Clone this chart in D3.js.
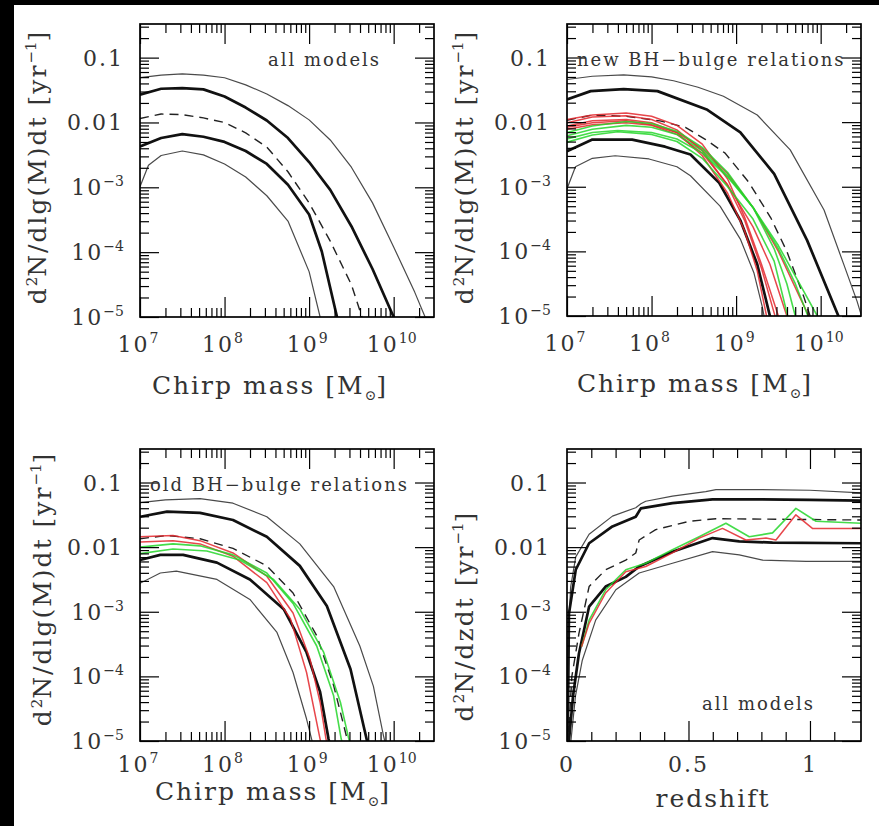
<!DOCTYPE html>
<html>
<head>
<meta charset="utf-8">
<script src="https://cdn.jsdelivr.net/npm/d3@7"></script>
<style>
  body { margin: 0; background: #fff; }
  svg { display: block; }
  text { font-family: "DejaVu Serif", serif; fill: #333; }
</style>
</head>
<body>
<svg id="fig" width="879" height="826"></svg>
<script>
/* merger rate panels: chirp mass (3) and redshift (1) */

// axis ranges
const massDomain = [1e7, 3e10];
const rateDomain = [1e-5, 0.33];
const zDomain = [0, 1.21];

// tick labels
const massExps = [7, 8, 9, 10];
const rateLabels = [
  { v: 0.1, base: '0.1' },
  { v: 0.01, base: '0.01' },
  { v: 1e-3, base: '10', sup: '−3' },
  { v: 1e-4, base: '10', sup: '−4' },
  { v: 1e-5, base: '10', sup: '−5' },
];
const zLabels = [{ v: 0, t: '0' }, { v: 0.5, t: '0.5' }, { v: 1, t: '1' }];

// ---- panel 1, all models: [log10 M, log10 rate]
const p1ThinUpper = [[7,-1.31],[7.25,-1.27],[7.5,-1.25],[7.75,-1.27],[8,-1.31],[8.25,-1.42],[8.5,-1.56],[8.75,-1.74],[9,-1.96],[9.25,-2.27],[9.5,-2.69],[9.75,-3.24],[10,-3.92],[10.25,-4.62],[10.5,-5.4]];
const p1ThickUpper = [[7,-1.57],[7.25,-1.48],[7.5,-1.47],[7.75,-1.49],[8,-1.6],[8.25,-1.77],[8.5,-1.97],[8.75,-2.24],[9,-2.61],[9.25,-3.04],[9.5,-3.6],[9.75,-4.26],[10,-5.0],[10.25,-5.8]];
const p1Median = [[7,-1.94],[7.25,-1.87],[7.5,-1.88],[7.75,-1.93],[8,-2.0],[8.25,-2.16],[8.5,-2.38],[8.75,-2.76],[9,-3.24],[9.25,-3.83],[9.5,-4.5],[9.75,-5.5]];
const p1ThickLower = [[7,-2.37],[7.25,-2.24],[7.5,-2.18],[7.75,-2.22],[8,-2.3],[8.25,-2.44],[8.5,-2.64],[8.75,-2.96],[9,-3.42],[9.15,-3.99],[9.33,-5.0],[9.5,-6]];
const p1ThinLower = [[7,-2.99],[7.1,-2.66],[7.25,-2.51],[7.5,-2.44],[7.75,-2.5],[8,-2.64],[8.25,-2.84],[8.5,-3.13],[8.75,-3.52],[9,-4.3],[9.13,-5],[9.25,-6]];

// ---- panel 2, new BH-bulge relations
const p2ThinUpper = [[7,-1.34],[7.3,-1.29],[7.67,-1.27],[8,-1.3],[8.26,-1.36],[8.55,-1.46],[8.85,-1.6],[9.25,-1.89],[9.64,-2.43],[10.04,-3.36],[10.27,-4.19],[10.43,-4.77],[10.6,-5.5]];
const p2ThickUpper = [[7,-1.65],[7.28,-1.52],[7.67,-1.49],[8.07,-1.52],[8.66,-1.81],[9.05,-2.16],[9.45,-2.8],[9.84,-3.83],[10.21,-5.0],[10.4,-5.7]];
const p2Median = [[7,-1.97],[7.3,-1.89],[7.7,-1.91],[8.1,-1.98],[8.4,-2.08],[8.64,-2.27],[8.87,-2.48],[9.15,-2.93],[9.41,-3.48],[9.6,-4.0],[9.8,-4.7],[9.9,-5.1]];
const p2ThickLower = [[7,-2.45],[7.3,-2.27],[7.77,-2.27],[8.16,-2.38],[8.46,-2.5],[8.8,-2.94],[9.05,-3.52],[9.25,-4.2],[9.4,-5.0],[9.5,-5.5]];
const p2ThinLower = [[7,-3.03],[7.1,-2.69],[7.3,-2.56],[7.57,-2.52],[7.97,-2.57],[8.3,-2.69],[8.46,-2.83],[8.81,-3.3],[9.05,-3.81],[9.21,-4.33],[9.31,-4.86],[9.36,-5.2]];
const p2Red = [
  [[7,-1.96],[7.3,-1.89],[7.7,-1.86],[8,-1.91],[8.3,-2.05],[8.6,-2.34],[8.9,-2.88],[9.1,-3.47],[9.3,-4.2],[9.5,-5.0],[9.6,-5.4]],
  [[7,-2.01],[7.3,-1.92],[7.7,-1.9],[8,-1.96],[8.3,-2.12],[8.6,-2.44],[8.9,-2.98],[9.1,-3.52],[9.3,-4.26],[9.46,-5.0],[9.55,-5.4]],
  [[7,-2.06],[7.3,-1.98],[7.7,-1.96],[8,-2.01],[8.3,-2.16],[8.6,-2.52],[8.9,-3.1],[9.1,-3.68],[9.25,-4.3],[9.36,-5.0],[9.45,-5.5]],
  [[7,-2.11],[7.3,-2.04],[7.7,-2.01],[8,-2.05],[8.3,-2.19],[8.6,-2.48],[8.9,-2.97],[9.2,-3.62],[9.4,-4.2],[9.6,-5.0],[9.7,-5.4]],
  [[7,-2.08],[7.3,-2.01],[7.7,-1.98],[8,-2.04],[8.3,-2.16],[8.6,-2.41],[8.9,-2.8],[9.2,-3.32],[9.5,-4.0],[9.75,-4.7],[9.86,-5.0],[9.95,-5.3]],
];
const p2Green = [
  [[7,-2.16],[7.3,-2.06],[7.7,-1.99],[8,-2.02],[8.3,-2.14],[8.6,-2.39],[8.9,-2.78],[9.2,-3.32],[9.45,-3.96],[9.6,-4.5],[9.7,-5.0],[9.8,-5.4]],
  [[7,-2.21],[7.3,-2.11],[7.7,-2.05],[8,-2.08],[8.3,-2.19],[8.6,-2.44],[8.9,-2.83],[9.2,-3.32],[9.5,-3.96],[9.7,-4.5],[9.85,-5.0],[9.95,-5.4]],
  [[7,-2.26],[7.3,-2.16],[7.6,-2.13],[8,-2.16],[8.3,-2.26],[8.6,-2.48],[8.9,-2.85],[9.2,-3.32],[9.5,-3.91],[9.75,-4.5],[9.96,-5.0],[10.05,-5.3]],
  [[7,-2.31],[7.3,-2.2],[7.6,-2.15],[8,-2.19],[8.3,-2.3],[8.6,-2.56],[8.9,-3.0],[9.2,-3.5],[9.45,-4.15],[9.61,-5.0],[9.7,-5.5]],
];

// ---- panel 3, old BH-bulge relations
const p3ThinUpper = [[7,-1.31],[7.3,-1.27],[7.71,-1.25],[8.1,-1.32],[8.5,-1.53],[8.89,-1.95],[9.29,-2.61],[9.6,-3.53],[9.76,-4.15],[9.88,-4.92],[9.95,-5.3]];
const p3ThickUpper = [[7,-1.53],[7.32,-1.45],[7.71,-1.47],[8.1,-1.58],[8.5,-1.84],[8.89,-2.29],[9.21,-2.91],[9.49,-3.89],[9.68,-4.97],[9.75,-5.4]];
const p3Median = [[7,-1.87],[7.32,-1.82],[7.71,-1.87],[8.1,-2.02],[8.5,-2.29],[8.81,-2.71],[9.09,-3.37],[9.29,-4.14],[9.45,-4.97],[9.5,-5.3]];
const p3ThickLower = [[7,-2.2],[7.24,-2.12],[7.51,-2.12],[7.91,-2.24],[8.3,-2.5],[8.7,-2.96],[8.97,-3.63],[9.13,-4.24],[9.23,-4.97],[9.3,-5.4]];
const p3ThinLower = [[7,-2.56],[7.24,-2.4],[7.43,-2.37],[7.91,-2.5],[8.3,-2.81],[8.62,-3.32],[8.81,-3.94],[8.97,-4.66],[9.03,-4.97],[9.1,-5.4]];
const p3Red = [
  [[7,-1.84],[7.39,-1.82],[7.71,-1.9],[8.1,-2.09],[8.5,-2.45],[8.81,-3.02],[9.01,-3.73],[9.13,-4.4],[9.2,-4.97],[9.28,-5.4]],
  [[7,-1.92],[7.39,-1.9],[7.71,-1.95],[8.1,-2.14],[8.5,-2.55],[8.78,-3.11],[8.97,-3.94],[9.13,-4.97],[9.2,-5.4]],
];
const p3Green = [
  [[7,-2.0],[7.39,-1.95],[7.71,-1.98],[8.1,-2.12],[8.5,-2.4],[8.81,-2.87],[9.09,-3.53],[9.29,-4.3],[9.38,-4.97],[9.45,-5.3]],
  [[7,-2.1],[7.39,-2.03],[7.79,-2.06],[8.18,-2.2],[8.58,-2.5],[8.89,-2.96],[9.17,-3.62],[9.37,-4.4],[9.47,-4.97],[9.55,-5.4]],
];

// ---- panel 4, redshift: [z, log10 rate]
const p4ThinUpper = [[0.001,-5],[0.005,-3.4],[0.015,-2.62],[0.036,-2.15],[0.091,-1.8],[0.187,-1.52],[0.283,-1.39],[0.304,-1.33],[0.324,-1.29],[0.434,-1.21],[0.571,-1.14],[0.613,-1.11],[0.8,-1.11],[1.0,-1.12],[1.21,-1.16]];
const p4ThickUpper = [[0.003,-5],[0.008,-3.03],[0.036,-2.35],[0.091,-1.94],[0.187,-1.68],[0.283,-1.53],[0.304,-1.4],[0.434,-1.32],[0.599,-1.26],[0.8,-1.26],[1.0,-1.27],[1.21,-1.28]];
const p4Median = [[0.005,-5],[0.02,-4.0],[0.049,-3.34],[0.091,-2.61],[0.159,-2.35],[0.242,-2.2],[0.283,-2.09],[0.297,-1.89],[0.365,-1.73],[0.503,-1.6],[0.613,-1.56],[0.9,-1.57],[1.21,-1.58]];
const p4ThickLower = [[0.008,-5],[0.025,-4.3],[0.049,-3.65],[0.091,-2.92],[0.159,-2.61],[0.242,-2.46],[0.297,-2.3],[0.434,-2.07],[0.599,-1.86],[0.709,-1.91],[0.846,-1.93],[1.21,-1.94]];
const p4ThinLower = [[0.016,-5],[0.035,-4.3],[0.063,-3.75],[0.118,-3.13],[0.201,-2.66],[0.297,-2.4],[0.434,-2.25],[0.599,-2.07],[0.709,-2.12],[0.805,-2.2],[0.984,-2.22],[1.21,-2.22]];
const p4Green = [[0.06,-3.54],[0.091,-3.13],[0.159,-2.66],[0.242,-2.35],[0.283,-2.3],[0.324,-2.25],[0.434,-2.04],[0.544,-1.84],[0.654,-1.63],[0.75,-1.84],[0.846,-1.78],[0.942,-1.4],[1.025,-1.6],[1.21,-1.63]];
const p4Red = [[0.06,-3.54],[0.091,-3.18],[0.159,-2.71],[0.242,-2.38],[0.324,-2.3],[0.434,-2.09],[0.544,-1.86],[0.64,-1.71],[0.736,-1.89],[0.819,-1.86],[0.86,-1.89],[0.942,-1.5],[1.01,-1.71],[1.21,-1.71]];

const STYLE = {
  thin: { stroke: '#4a4a4a', width: 1.2 },
  thick: { stroke: '#111', width: 2.7 },
  dash: { stroke: '#222', width: 1.4, dash: '9,6' },
  red: { stroke: '#e3262b', width: 1.5, opacity: 0.85 },
  green: { stroke: '#25d62a', width: 1.6, opacity: 0.85 },
};

function envelope(t1, t2, m, t3, t4) {
  return [
    { data: t1, s: 'thin' }, { data: t2, s: 'thick' }, { data: m, s: 'dash' },
    { data: t3, s: 'thick' }, { data: t4, s: 'thin' },
  ];
}

const panels = [
  {
    id: 'p1', left: 140, top: 24, w: 294, h: 293, kind: 'mass', tickBase: 35,
    series: envelope(p1ThinUpper, p1ThickUpper, p1Median, p1ThickLower, p1ThinLower),
    note: { text: 'all models', x: 268, y: 66 },
    xTitle: { y: 394, cx: 270 }, yTitle: { x: 46, cy: 167, text: 'mass' },
  },
  {
    id: 'p2', left: 567, top: 24, w: 294, h: 292, kind: 'mass', tickBase: 35,
    series: envelope(p2ThinUpper, p2ThickUpper, p2Median, p2ThickLower, p2ThinLower)
      .concat(p2Red.map(d => ({ data: d, s: 'red' })), p2Green.map(d => ({ data: d, s: 'green' }))),
    note: { text: 'new BH−bulge relations', x: 577, y: 66 },
    xTitle: { y: 392, cx: 695 }, yTitle: { x: 473, cy: 167, text: 'mass' },
  },
  {
    id: 'p3', left: 140, top: 449, w: 294, h: 292, kind: 'mass', tickBase: 31,
    series: envelope(p3ThinUpper, p3ThickUpper, p3Median, p3ThickLower, p3ThinLower)
      .concat(p3Red.map(d => ({ data: d, s: 'red' })), p3Green.map(d => ({ data: d, s: 'green' }))),
    note: { text: 'old BH−bulge relations', x: 150, y: 491 },
    xTitle: { y: 800, cx: 273 }, yTitle: { x: 51, cy: 589, text: 'mass' },
  },
  {
    id: 'p4', left: 567, top: 449, w: 294, h: 292, kind: 'z', tickBase: 31,
    series: envelope(p4ThinUpper, p4ThickUpper, p4Median, p4ThickLower, p4ThinLower)
      .concat([{ data: p4Green, s: 'green' }, { data: p4Red, s: 'red' }]),
    note: { text: 'all models', x: 702, y: 710 },
    xTitle: { y: 807, cx: 713 }, yTitle: { x: 473, cy: 616, text: 'z' },
  },
];

const svg = d3.select('#fig');
svg.append('rect').attr('width', 879).attr('height', 826).attr('fill', '#fff');
svg.append('rect').attr('width', 879).attr('height', 5).attr('fill', '#000');
svg.append('rect').attr('width', 14).attr('height', 826).attr('fill', '#000');

function logMinors(lo, hi) {
  const out = [];
  for (let e = Math.floor(Math.log10(lo)); e <= Math.ceil(Math.log10(hi)); e++) {
    for (let k = 2; k <= 9; k++) {
      const v = k * 10 ** e;
      if (v > lo && v < hi) out.push(v);
    }
  }
  return out;
}

function ticks(g, axisFn, scale, values, size, tx, ty) {
  g.append('g').attr('transform', `translate(${tx},${ty})`)
    .call(axisFn(scale).tickValues(values).tickSize(-size).tickSizeOuter(0).tickFormat(''))
    .call(a => { a.select('.domain').remove(); a.selectAll('text').remove(); })
    .attr('color', '#000')
    .selectAll('line').attr('stroke-width', 1.2);
}

function drawPanel(p) {
  const x = p.kind === 'mass'
    ? d3.scaleLog().domain(massDomain).range([p.left, p.left + p.w])
    : d3.scaleLinear().domain(zDomain).range([p.left, p.left + p.w]);
  const y = d3.scaleLog().domain(rateDomain).range([p.top + p.h, p.top]);
  const bottom = p.top + p.h, right = p.left + p.w;
  const g = svg.append('g').attr('class', 'panel ' + p.id);

  svg.append('clipPath').attr('id', 'clip-' + p.id)
    .append('rect').attr('x', p.left).attr('y', p.top).attr('width', p.w).attr('height', p.h);

  const toXY = p.kind === 'mass' ? d => [10 ** d[0], 10 ** d[1]] : d => [d[0], 10 ** d[1]];
  const line = d3.line().x(d => x(toXY(d)[0])).y(d => y(toXY(d)[1]));

  const curves = g.append('g').attr('clip-path', `url(#clip-${p.id})`);
  p.series.forEach(sr => {
    const st = STYLE[sr.s];
    curves.append('path').datum(sr.data)
      .attr('d', line)
      .attr('fill', 'none')
      .attr('stroke', st.stroke)
      .attr('stroke-width', st.width)
      .attr('stroke-opacity', st.opacity ?? 1)
      .attr('stroke-dasharray', st.dash ?? null)
      .attr('stroke-linejoin', 'round');
  });

  // ticks on all four sides, pointing inward
  const yMajor = rateLabels.map(d => d.v);
  const yMinor = logMinors(rateDomain[0], rateDomain[1]);
  let xMajor, xMinor;
  if (p.kind === 'mass') {
    xMajor = massExps.map(e => 10 ** e);
    xMinor = logMinors(massDomain[0], massDomain[1]);
  } else {
    xMajor = [0.5, 1];
    xMinor = d3.range(1, 12).map(i => i / 10).filter(v => v !== 0.5 && v !== 1);
  }
  [[xMajor, 20], [xMinor, 9]].forEach(([vals, len]) => {
    ticks(g, d3.axisBottom, x, vals, len, 0, bottom);
    ticks(g, d3.axisTop, x, vals, len, 0, p.top);
  });
  [[yMajor, 19], [yMinor, 9]].forEach(([vals, len]) => {
    ticks(g, d3.axisLeft, y, vals, len, p.left, 0);
    ticks(g, d3.axisRight, y, vals, len, right, 0);
  });

  g.append('rect').attr('x', p.left).attr('y', p.top).attr('width', p.w).attr('height', p.h)
    .attr('fill', 'none').attr('stroke', '#000').attr('stroke-width', 1.7);

  // y tick labels
  rateLabels.forEach(d => {
    const t = g.append('text').attr('x', p.left - 16).attr('y', y(d.v) + 8)
      .attr('text-anchor', 'end').attr('font-size', 22).attr('letter-spacing', 2);
    t.append('tspan').text(d.base);
    if (d.sup) t.append('tspan').attr('dy', -9).attr('font-size', 14).attr('letter-spacing', 0).text(d.sup);
  });

  // x tick labels
  if (p.kind === 'mass') {
    massExps.forEach(e => {
      const t = g.append('text').attr('x', x(10 ** e) - 2).attr('y', bottom + p.tickBase)
        .attr('text-anchor', 'middle').attr('font-size', 22).attr('letter-spacing', 2);
      t.append('tspan').text('10');
      t.append('tspan').attr('dy', -9).attr('font-size', 14).attr('letter-spacing', 0).text(e);
    });
  } else {
    zLabels.forEach(d => {
      g.append('text').attr('x', x(d.v)).attr('y', bottom + p.tickBase)
        .attr('text-anchor', 'middle').attr('font-size', 22).attr('letter-spacing', 2).text(d.t);
    });
  }

  // x title
  const xt = g.append('text').attr('x', p.xTitle.cx).attr('y', p.xTitle.y)
    .attr('text-anchor', 'middle').attr('font-size', 25).attr('letter-spacing', 2);
  if (p.kind === 'mass') {
    xt.append('tspan').text('Chirp mass [M');
    xt.append('tspan').attr('dy', 6).attr('font-size', 14).attr('letter-spacing', 0).text('⊙');
    xt.append('tspan').attr('dy', -6).text(']');
  } else {
    xt.text('redshift');
  }

  // y title
  const yt = g.append('text')
    .attr('transform', `translate(${p.yTitle.x},${p.yTitle.cy}) rotate(-90)`)
    .attr('text-anchor', 'middle').attr('font-size', 25).attr('letter-spacing', 2);
  yt.append('tspan').text('d');
  yt.append('tspan').attr('dy', -9).attr('font-size', 15).attr('letter-spacing', 0).text('2');
  yt.append('tspan').attr('dy', 9).text(p.yTitle.text === 'mass' ? 'N/dlg(M)dt [yr' : 'N/dzdt [yr');
  yt.append('tspan').attr('dy', -10).attr('font-size', 15).attr('letter-spacing', 0).text('−1');
  yt.append('tspan').attr('dy', 10).text(']');

  // annotation
  g.append('text').attr('x', p.note.x).attr('y', p.note.y)
    .attr('font-size', 18).attr('letter-spacing', 2).text(p.note.text);
}

panels.forEach(drawPanel);
</script>
</body>
</html>
